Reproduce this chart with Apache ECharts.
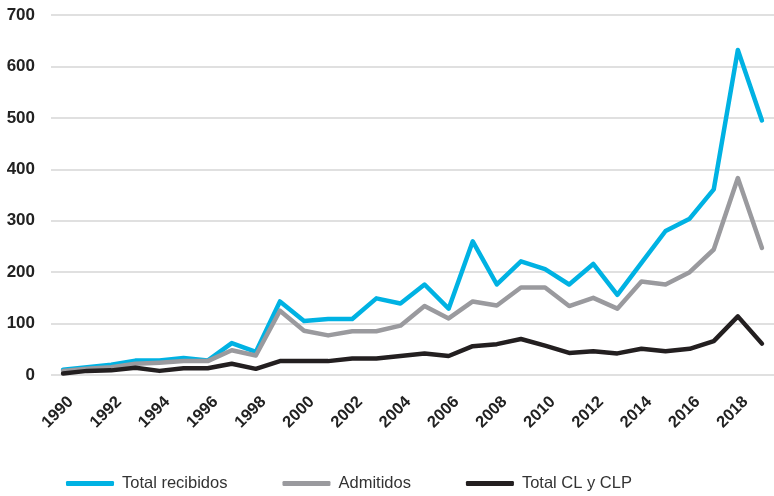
<!DOCTYPE html>
<html>
<head>
<meta charset="utf-8">
<script src="https://cdn.jsdelivr.net/npm/echarts@6/dist/echarts.min.js"></script>
<style>
  html, body { margin: 0; padding: 0; background: #fff; }
  #chart { width: 774px; height: 496px; }
</style>
</head>
<body>
<div id="chart"></div>
<script>
// datos
var years = [];
for (var y = 1990; y <= 2019; y++) years.push(String(y));

var recibidos = [10, 15, 20, 28, 28, 33, 28, 62, 45, 143, 105, 109, 109, 149, 139, 176, 129, 260, 176, 221, 206, 176, 216, 156, 218, 280, 304, 361, 632, 495];
var admitidos = [8, 12, 15, 22, 24, 27, 27, 48, 38, 125, 86, 77, 85, 85, 96, 134, 110, 143, 135, 170, 170, 134, 150, 129, 182, 176, 200, 244, 383, 247];
var clClp = [3, 8, 9, 14, 8, 13, 13, 22, 12, 27, 27, 27, 32, 32, 37, 42, 37, 56, 60, 70, 57, 43, 46, 42, 51, 46, 51, 66, 114, 61];

var myChart = echarts.init(document.getElementById('chart'));

function linea(name, data, color) {
    return {
        name: name,
        type: 'line',
        data: data,
        symbol: 'none',
        lineStyle: { color: color, width: 4.5, cap: 'round', join: 'round' },
        itemStyle: { color: color }
    };
}

var option = {
    animation: false,
    grid: { left: 51, right: -3, top: 15, bottom: 121 },
    legend: {
        left: 66,
        top: 475,
        padding: 0,
        icon: 'roundRect',
        itemWidth: 48,
        itemHeight: 5,
        itemGap: 55,
        textStyle: {
            fontFamily: '"Liberation Sans", Arial, sans-serif',
            fontSize: 16.5,
            color: '#333',
            padding: [0, 0, 0, 3]
        },
        data: ['Total recibidos', 'Admitidos', 'Total CL y CLP']
    },
    xAxis: {
        type: 'category',
        data: years,
        boundaryGap: true,
        axisLine: { show: false },
        axisTick: { show: false },
        axisLabel: {
            interval: 1,
            rotate: 45,
            margin: 32,
            padding: [0, -11, 0, 0],
            fontFamily: '"Liberation Sans", Arial, sans-serif',
            fontWeight: 'bold',
            fontSize: 16.5,
            color: '#222'
        }
    },
    yAxis: {
        type: 'value',
        min: 0,
        max: 700,
        interval: 100,
        axisLine: { show: false },
        axisTick: { show: false },
        splitLine: { lineStyle: { color: '#d6d6d6', width: 1.5 } },
        axisLabel: {
            margin: 16,
            fontFamily: '"Liberation Sans", Arial, sans-serif',
            fontWeight: 'bold',
            fontSize: 17,
            color: '#222'
        }
    },
    series: [
        linea('Total recibidos', recibidos, '#00b2e3'),
        linea('Admitidos', admitidos, '#9a9a9e'),
        linea('Total CL y CLP', clClp, '#231f20')
    ]
};

myChart.setOption(option, true);
</script>
</body>
</html>
